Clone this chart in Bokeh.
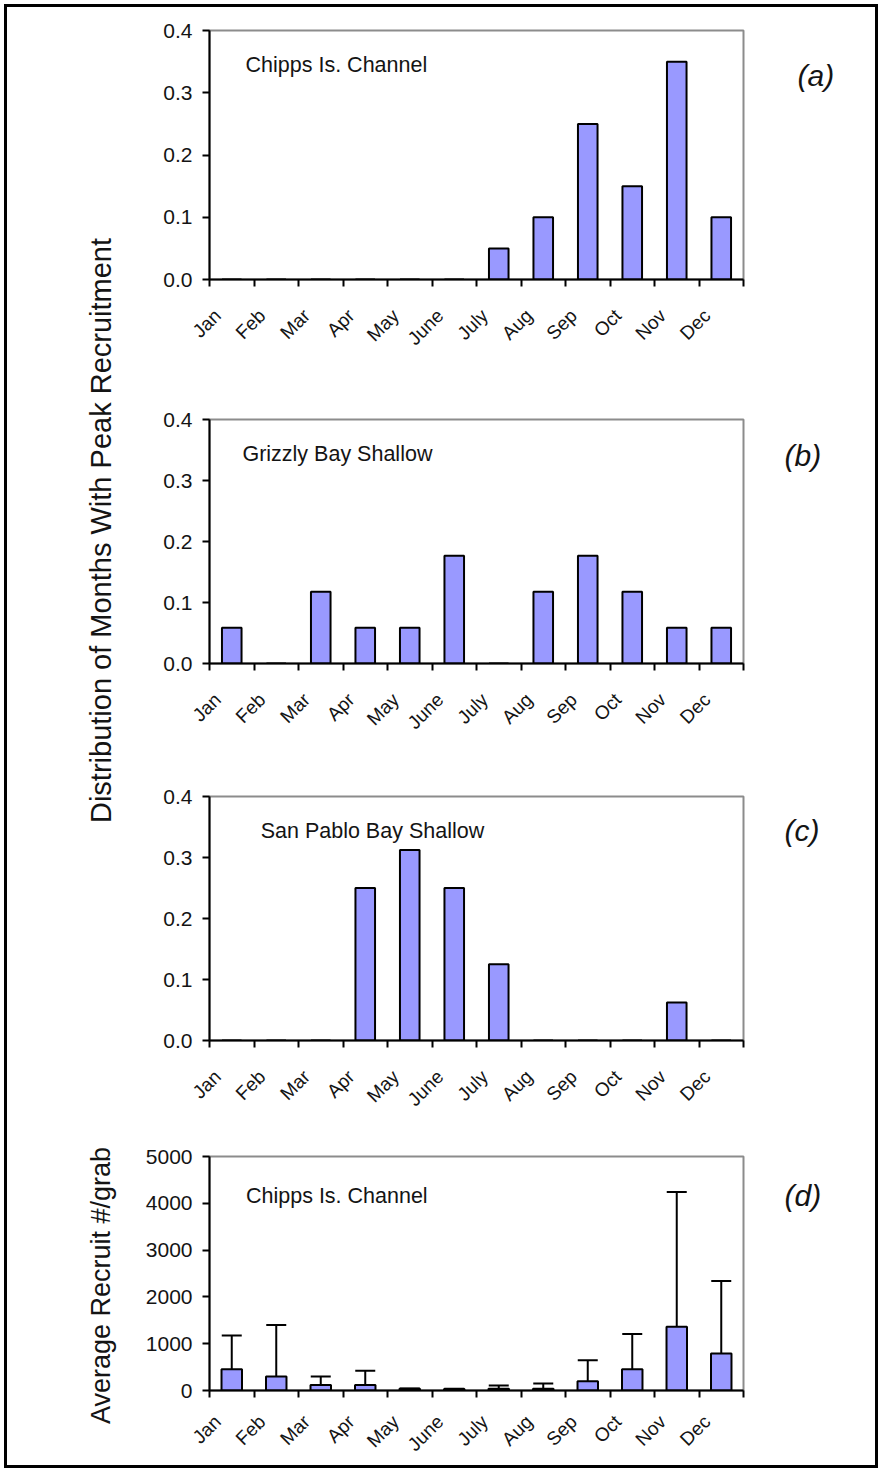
from math import pi
from bokeh.plotting import figure
from bokeh.models import (Range1d, FixedTicker, Label, Whisker, TeeHead,
                          ColumnDataSource, NumeralTickFormatter)
from bokeh.layouts import column, row
from bokeh.embed import file_html
from bokeh.resources import INLINE

# ---------------- data ----------------
months = ["Jan", "Feb", "Mar", "Apr", "May", "June", "July", "Aug", "Sep", "Oct", "Nov", "Dec"]
chipps_peak = [0, 0, 0, 0, 0, 0, 0.05, 0.10, 0.25, 0.15, 0.35, 0.10]
grizzly_peak = [0.0588, 0, 0.1176, 0.0588, 0.0588, 0.1765, 0, 0.1176, 0.1765, 0.1176, 0.0588, 0.0588]
sanpablo_peak = [0, 0, 0, 0.25, 0.3125, 0.25, 0.125, 0, 0, 0, 0.0625, 0]
chipps_mean = [456, 300, 120, 120, 40, 30, 40, 40, 196, 456, 1363, 793]
chipps_upper = [1173, 1400, 300, 420, 45, 40, 105, 150, 646, 1209, 4240, 2342]
dist_ticks = [0, 0.1, 0.2, 0.3, 0.4]
count_ticks = [0, 1000, 2000, 3000, 4000, 5000]

FONT = "Liberation Sans"
TXT = "#141414"
BAR = "#9999FF"
LABEL_SHIFT = -0.32      # month names sit a little left of the category centre

# page geometry (content box of the bordered layout)
X0, X1 = 7, 875
Y0, Y1 = 7, 1465
LAB_W = 110
TAG_W = 125
PW = X1 - X0 - LAB_W - TAG_W
PX0 = X0 + LAB_W
FRAME_L, FRAME_R = 209, 743


def strip(width, height, xr, yr):
    s = figure(width=width, height=height, x_range=xr, y_range=yr,
               output_backend="svg", toolbar_location=None,
               x_axis_type=None, y_axis_type=None, min_border=0)
    s.outline_line_color = None
    s.xgrid.visible = False
    s.ygrid.visible = False
    s.background_fill_color = "white"
    s.border_fill_color = "white"
    return s


def panel(vals, ymax, yticks, fmt, title, tpos, fig_top, fig_bottom, frame_top, frame_bottom,
          bar_w=0.44, upper=None, standoff=26):
    p = figure(width=PW, height=fig_bottom - fig_top,
               x_range=Range1d(0, 12), y_range=Range1d(0, ymax),
               output_backend="svg", toolbar_location=None,
               min_border_top=frame_top - fig_top, min_border_bottom=fig_bottom - frame_bottom,
               min_border_left=FRAME_L - PX0, min_border_right=PX0 + PW - FRAME_R)
    p.background_fill_color = "white"
    p.border_fill_color = "white"
    p.outline_line_color = "#8c8c8c"
    p.outline_line_width = 2
    p.xgrid.visible = False
    p.ygrid.visible = False

    xs = [i + 0.5 for i in range(len(months))]
    p.vbar(x=xs, top=vals, width=bar_w, fill_color=BAR, line_color="black", line_width=2)

    if upper is not None:
        src = ColumnDataSource(dict(x=xs, lower=vals, upper=upper))
        w = Whisker(base="x", lower="lower", upper="upper", source=src, dimension="height",
                    line_color="black", line_width=2,
                    upper_head=TeeHead(size=20, line_color="black", line_width=2),
                    lower_head=None)
        p.add_layout(w)

    lab_pos = [i + 0.5 + LABEL_SHIFT for i in range(len(months))]
    xa = p.xaxis[0]
    xa.ticker = FixedTicker(ticks=lab_pos, minor_ticks=list(range(len(months) + 1)))
    xa.major_label_overrides = {lp: m for lp, m in zip(lab_pos, months)}
    xa.major_tick_out = 0
    xa.major_tick_in = 0
    xa.minor_tick_out = 7
    xa.minor_tick_in = 0
    xa.minor_tick_line_width = 2
    xa.minor_tick_line_color = "black"
    xa.axis_line_width = 2
    xa.axis_line_color = "black"
    xa.major_label_orientation = pi / 4
    xa.major_label_standoff = standoff
    xa.major_label_text_font = FONT
    xa.major_label_text_font_size = "19px"
    xa.major_label_text_color = TXT

    ya = p.yaxis[0]
    ya.ticker = FixedTicker(ticks=yticks)
    ya.formatter = NumeralTickFormatter(format=fmt)
    ya.major_tick_out = 7
    ya.major_tick_in = 0
    ya.minor_tick_line_color = None
    ya.major_tick_line_width = 2
    ya.axis_line_width = 2
    ya.axis_line_color = "black"
    ya.major_label_standoff = 10
    ya.major_label_text_font = FONT
    ya.major_label_text_font_size = "21px"
    ya.major_label_text_color = TXT

    p.add_layout(Label(x=tpos[0], y=tpos[1], text=title, text_font=FONT,
                       text_font_size="21.5px", text_baseline="middle", text_color=TXT))
    return p


pa = panel(chipps_peak, 0.4, dist_ticks, "0.0", "Chipps Is. Channel", (0.81, 0.344),
           Y0, 395, 30, 279)
pb = panel(grizzly_peak, 0.4, dist_ticks, "0.0", "Grizzly Bay Shallow", (0.74, 0.344),
           395, 770, 419, 663)
pc = panel(sanpablo_peak, 0.4, dist_ticks, "0.0", "San Pablo Bay Shallow", (1.15, 0.344),
           770, 1135, 796, 1040)
pd = panel(chipps_mean, 5000, count_ticks, "0", "Chipps Is. Channel", (0.82, 4156),
           1135, Y1, 1156, 1393, bar_w=0.46, upper=chipps_upper, standoff=21)

# left strip holding the vertical axis titles
lab = strip(LAB_W, Y1 - Y0, Range1d(X0, X0 + LAB_W), Range1d(Y1, Y0))
lab.add_layout(Label(x=100, y=530, text="Distribution of Months With Peak Recruitment",
                     angle=pi / 2, text_align="center", text_baseline="middle",
                     text_font=FONT, text_font_size="29px", text_color=TXT))
lab.add_layout(Label(x=100, y=1285, text="Average Recruit #/grab",
                     angle=pi / 2, text_align="center", text_baseline="middle",
                     text_font=FONT, text_font_size="27px", text_color=TXT))

# right strip holding the panel tags
tags = strip(TAG_W, Y1 - Y0, Range1d(PX0 + PW, X1), Range1d(Y1, Y0))
for t, tx, ty in [("(a)", 797, 75), ("(b)", 784, 455), ("(c)", 784, 830), ("(d)", 784, 1195)]:
    tags.add_layout(Label(x=tx, y=ty, text=t, text_font=FONT, text_font_size="30px",
                          text_font_style="italic", text_baseline="middle", text_color=TXT))

layout = row(lab, column(pa, pb, pc, pd), tags,
             styles={"border": "3px solid black", "margin-left": "4px", "margin-top": "4px"})

open("out.html", "w").write(file_html(layout, INLINE))
